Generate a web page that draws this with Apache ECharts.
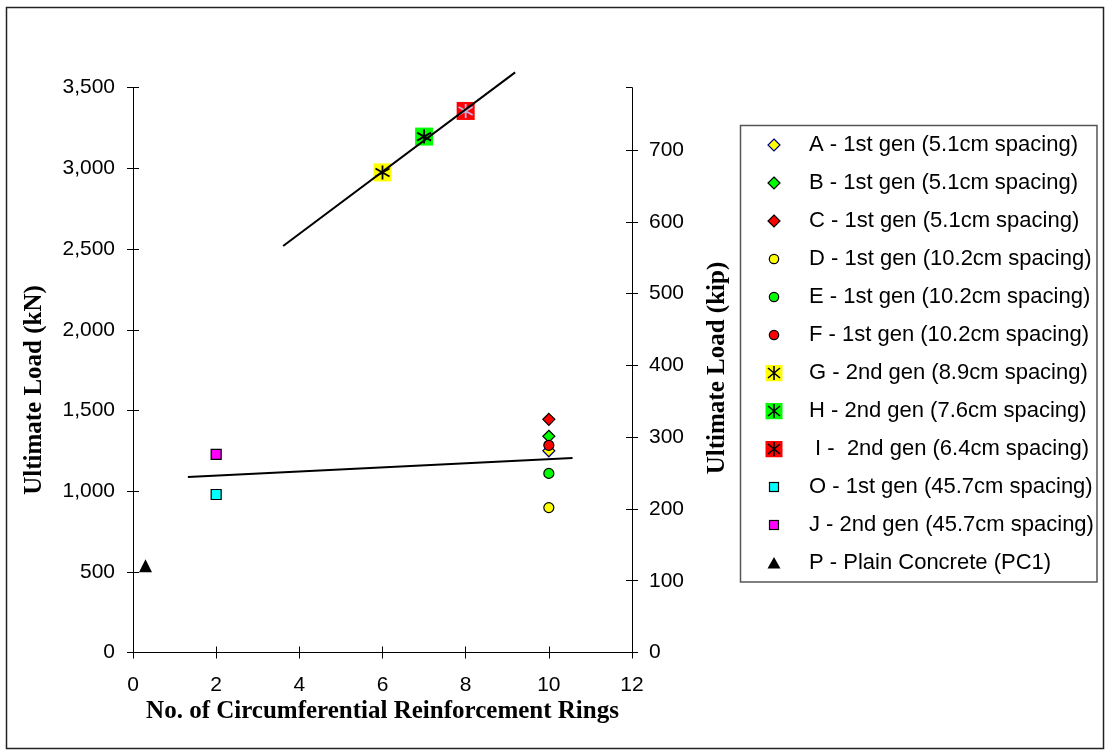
<!DOCTYPE html>
<html>
<head>
<meta charset="utf-8">
<script src="https://cdn.jsdelivr.net/npm/echarts@6/dist/echarts.min.js"></script>
<style>
html,body{margin:0;padding:0;background:#fff;}
#chart{width:1109px;height:753px;}
</style>
</head>
<body>
<div id="chart"></div>
<script>
// ---------- data (x = number of rings, y = ultimate load in kN) ----------
const seriesNames = [
  "A - 1st gen (5.1cm spacing)",
  "B - 1st gen (5.1cm spacing)",
  "C - 1st gen (5.1cm spacing)",
  "D - 1st gen (10.2cm spacing)",
  "E - 1st gen (10.2cm spacing)",
  "F - 1st gen (10.2cm spacing)",
  "G - 2nd gen (8.9cm spacing)",
  "H - 2nd gen (7.6cm spacing)",
  " I -  2nd gen (6.4cm spacing)",
  "O - 1st gen (45.7cm spacing)",
  "J - 2nd gen (45.7cm spacing)",
  "P - Plain Concrete (PC1)"
];
const pointsA = [[10, 1250]];
const pointsB = [[10, 1340]];
const pointsC = [[10, 1445]];
const pointsD = [[10, 898]];
const pointsE = [[10, 1110]];
const pointsF = [[10, 1284]];
const pointsG = [[6, 2975]];
const pointsH = [[7, 3197]];
const pointsI = [[8, 3356]];
const pointsO = [[2, 979]];
const pointsJ = [[2, 1228]];
const pointsP = [[0.3, 538]];
const trendUpper = [[3.61, 2519], [9.19, 3595]];
const trendLower = [[1.32, 1087], [10.57, 1205]];

const xRange = [0, 12];     const xStep = 2;
const kNRange = [0, 3500];  const kNStep = 500;
const kipStep = 100;        const kipLastLabel = 700;
const KN_PER_KIP = 4.448222;

// ---------- styling helpers ----------
const FONT = "'Liberation Sans', Arial, sans-serif";
const SERIF = "'Liberation Serif', 'Times New Roman', serif";

function svgIcon(inner) {
  const svg = '<svg xmlns="http://www.w3.org/2000/svg" width="60" height="17" viewBox="0 0 60 17">' + inner + '</svg>';
  return 'image://data:image/svg+xml;charset=utf-8,' + encodeURIComponent(svg);
}
function diamondIcon(fill, stroke) {
  return svgIcon('<polygon points="30,2.5 36,8.5 30,14.5 24,8.5" fill="' + fill + '" stroke="' + stroke + '" stroke-width="1.2"/>');
}
function circleIcon(fill) {
  return svgIcon('<circle cx="30" cy="8.5" r="4.7" fill="' + fill + '" stroke="#000" stroke-width="1.2"/>');
}
function starIcon(fill) {
  return svgIcon('<rect x="21.5" y="0" width="17" height="17" fill="' + fill + '"/>' +
    '<path d="M30,1.5 L30,15.5 M24,3.5 L36,13.5 M36,3.5 L24,13.5" stroke="#000" stroke-width="1.6" fill="none"/>');
}
function squareIcon(fill) {
  return svgIcon('<rect x="25.5" y="4" width="9" height="9" fill="' + fill + '" stroke="#000" stroke-width="1.2"/>');
}
function triIcon() {
  return svgIcon('<polygon points="30,2.5 36.5,14 23.5,14" fill="#000"/>');
}
const legendIcons = [
  diamondIcon('#ffff00', '#000080'),
  diamondIcon('#00ff00', '#000'),
  diamondIcon('#ff0000', '#000'),
  circleIcon('#ffff00'),
  circleIcon('#00ff00'),
  circleIcon('#ff0000'),
  starIcon('#ffff00'),
  starIcon('#00ff00'),
  starIcon('#ff0000'),
  squareIcon('#00ffff'),
  squareIcon('#ff00ff'),
  triIcon()
];

const STAR_PATH = 'path://M7,0 L7,14 M1,3 L13,11 M13,3 L1,11';

function scatter(name, data, symbol, size, fill, border) {
  return {
    name: name, type: 'scatter', data: data, symbol: symbol, symbolSize: size,
    xAxisIndex: 0, yAxisIndex: 0,
    itemStyle: { color: fill, borderColor: border || '#000', borderWidth: border === 'none' ? 0 : 1.2, opacity: 1 },
    emphasis: { disabled: true }, z: 3
  };
}
function star(name, data, color) {
  return {
    name: name, type: 'scatter', data: data, symbol: STAR_PATH, symbolSize: 14,
    xAxisIndex: 0, yAxisIndex: 0,
    itemStyle: { color: 'rgba(0,0,0,0)', borderColor: color, borderWidth: 1.8, opacity: 1 },
    emphasis: { disabled: true }, z: 4, silent: true
  };
}
function trend(name, data) {
  return {
    name: name, type: 'line', data: data, showSymbol: false, symbol: 'none', clip: false,
    xAxisIndex: 0, yAxisIndex: 0,
    lineStyle: { color: '#000', width: 2 }, z: 5, silent: true
  };
}

const tickLine = { color: '#000', width: 1 };
const lbl = { fontSize: 21, color: '#000', fontFamily: FONT };
const kipMax = kNRange[1] / KN_PER_KIP;
const gridRect = { left: 133, right: 477, top: 87.7, bottom: 100.5, containLabel: false };

function axis(opts) {
  return Object.assign({
    type: 'value',
    splitLine: { show: false },
    minorTick: { show: false },
    axisPointer: { show: false }
  }, opts);
}

const option = {
  animation: false,
  backgroundColor: '#fff',
  // grid 0 carries the data and the outward ticks; grid 1 (same rectangle) carries the inward half of the cross ticks
  grid: [Object.assign({}, gridRect), Object.assign({}, gridRect)],
  xAxis: [
    axis({
      gridIndex: 0, min: xRange[0], max: xRange[1], interval: xStep, position: 'bottom',
      axisLine: { show: true, onZero: false, lineStyle: { color: '#000', width: 1 } },
      axisTick: { show: true, inside: false, length: 6, lineStyle: tickLine },
      axisLabel: Object.assign({ show: true, margin: 22 }, lbl)
    }),
    axis({
      gridIndex: 1, min: xRange[0], max: xRange[1], interval: xStep, position: 'bottom',
      axisLine: { show: false, onZero: false },
      axisTick: { show: true, inside: true, length: 6, lineStyle: tickLine },
      axisLabel: { show: false }
    })
  ],
  yAxis: [
    axis({
      gridIndex: 0, min: kNRange[0], max: kNRange[1], interval: kNStep, position: 'left',
      axisLine: { show: true, onZero: false, lineStyle: { color: '#000', width: 1 } },
      axisTick: { show: true, inside: false, length: 6, lineStyle: tickLine },
      axisLabel: Object.assign({ show: true, margin: 18, formatter: v => v.toLocaleString('en-US') }, lbl)
    }),
    axis({
      gridIndex: 0, min: 0, max: kipMax, interval: kipStep, position: 'right',
      axisLine: { show: true, onZero: false, lineStyle: { color: '#000', width: 1 } },
      axisTick: { show: true, inside: false, length: 6, lineStyle: tickLine },
      axisLabel: Object.assign({ show: true, margin: 17, showMaxLabel: false,
        formatter: v => (v <= kipLastLabel && Math.abs(v % kipStep) < 1e-6) ? String(v) : '' }, lbl)
    }),
    axis({
      gridIndex: 1, min: kNRange[0], max: kNRange[1], interval: kNStep, position: 'left',
      axisLine: { show: false, onZero: false },
      axisTick: { show: true, inside: true, length: 6, lineStyle: tickLine },
      axisLabel: { show: false }
    }),
    axis({
      gridIndex: 1, min: 0, max: kipMax, interval: kipStep, position: 'right',
      axisLine: { show: false, onZero: false },
      axisTick: { show: true, inside: true, length: 6, lineStyle: tickLine },
      axisLabel: { show: false }
    })
  ],
  legend: {
    orient: 'vertical', left: 744, top: 134, padding: 0,
    itemWidth: 60, itemHeight: 17, itemGap: 16, selectedMode: false,
    textStyle: { fontSize: 22, lineHeight: 22, color: '#000', fontFamily: FONT },
    data: seriesNames.map((n, i) => ({ name: n, icon: legendIcons[i] }))
  },
  series: [
    scatter(seriesNames[0], pointsA, 'diamond', 12, '#ffff00', '#000080'),
    scatter(seriesNames[1], pointsB, 'diamond', 12, '#00ff00'),
    scatter(seriesNames[2], pointsC, 'diamond', 12, '#ff0000'),
    scatter(seriesNames[3], pointsD, 'circle', 10, '#ffff00'),
    scatter(seriesNames[4], pointsE, 'circle', 10, '#00ff00'),
    scatter(seriesNames[5], pointsF, 'circle', 10, '#ff0000'),
    scatter(seriesNames[6], pointsG, 'rect', 18, '#ffff00', 'none'),
    scatter(seriesNames[7], pointsH, 'rect', 18, '#00ff00', 'none'),
    scatter(seriesNames[8], pointsI, 'rect', 18, '#ff0000', 'none'),
    scatter(seriesNames[9], pointsO, 'rect', 10, '#00ffff'),
    scatter(seriesNames[10], pointsJ, 'rect', 10, '#ff00ff'),
    scatter(seriesNames[11], pointsP, 'triangle', 13, '#000', 'none'),
    star('G-star', pointsG, '#000'),
    star('H-star', pointsH, '#000'),
    star('I-star', pointsI, '#c9b3e3'),
    trend('trend-upper', trendUpper),
    trend('trend-lower', trendLower)
  ],
  graphic: [
    { type: 'rect', shape: { x: 6.5, y: 7.5, width: 1097, height: 741 }, style: { fill: 'none', stroke: '#222', lineWidth: 1.5 }, silent: true, z: 0 },
    { type: 'rect', shape: { x: 740.5, y: 125.5, width: 356.5, height: 456.5 }, style: { fill: 'none', stroke: '#555', lineWidth: 1.5 }, silent: true, z: 0 },
    { type: 'text', x: 35, y: 390, rotation: Math.PI / 2,
      style: { text: 'Ultimate Load (kN)', font: 'bold 25px ' + SERIF, fill: '#000', align: 'center', verticalAlign: 'middle' }, silent: true },
    { type: 'text', x: 718, y: 368, rotation: Math.PI / 2,
      style: { text: 'Ultimate Load (kip)', font: 'bold 25px ' + SERIF, fill: '#000', align: 'center', verticalAlign: 'middle' }, silent: true },
    { type: 'text', x: 382.5, y: 712,
      style: { text: 'No. of Circumferential Reinforcement Rings', font: 'bold 25px ' + SERIF, fill: '#000', align: 'center', verticalAlign: 'middle' }, silent: true }
  ]
};

const chart = echarts.init(document.getElementById('chart'), null, { renderer: 'canvas' });
chart.setOption(option);
</script>
</body>
</html>
